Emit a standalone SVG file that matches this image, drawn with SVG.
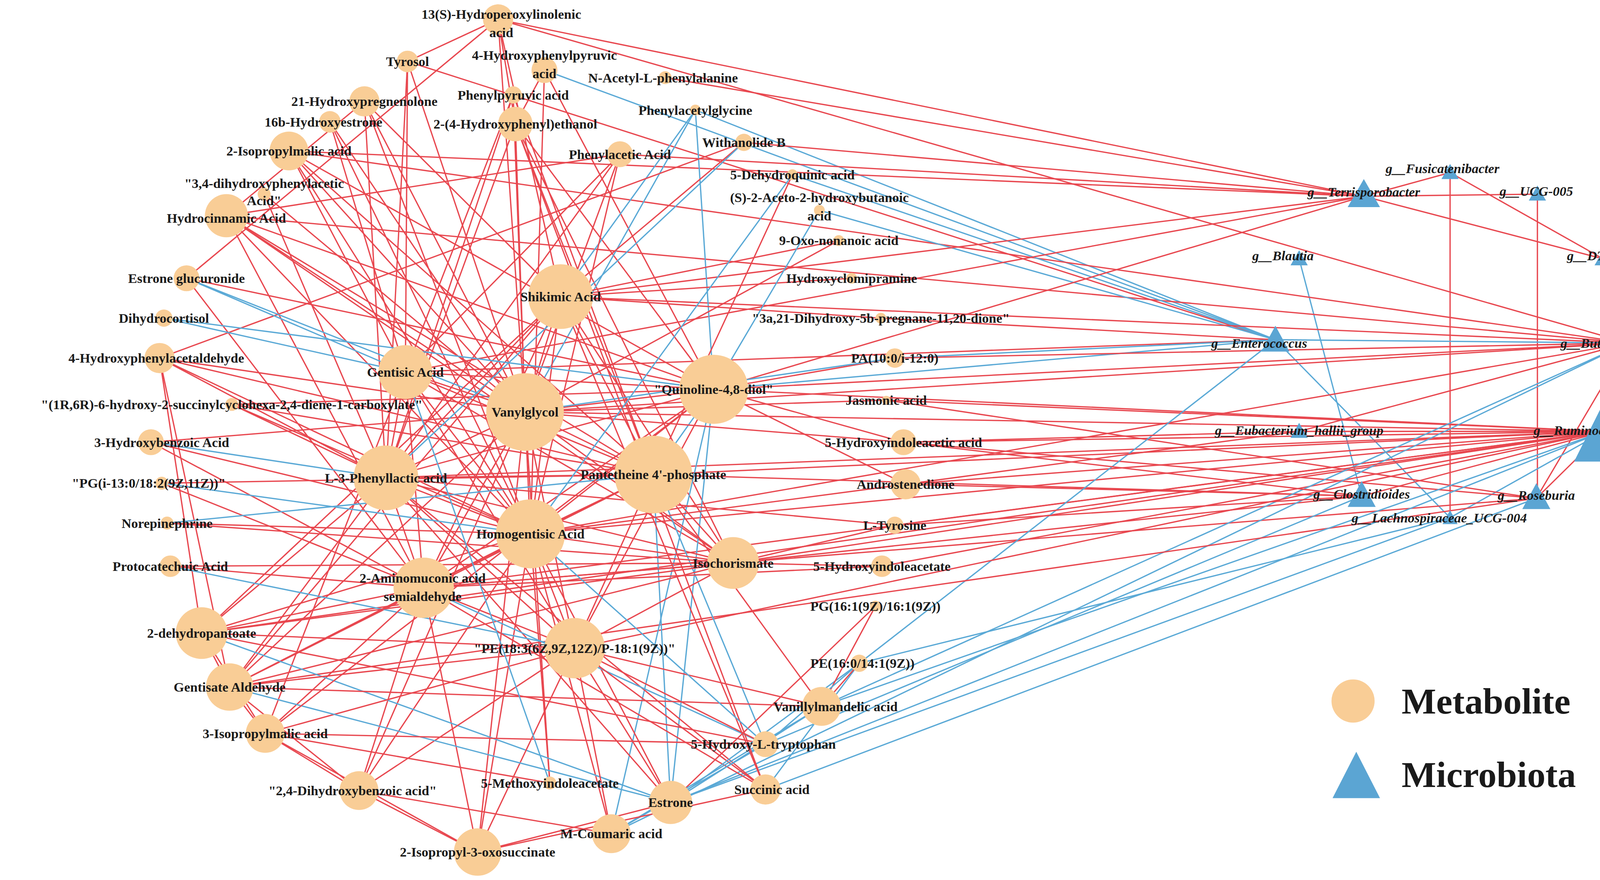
<svg xmlns="http://www.w3.org/2000/svg" width="4328" height="2252" viewBox="0 0 4328 2252">
<style>
.r{stroke:#e8474f;stroke-width:1.2;fill:none}
.b{stroke:#5aa9d6;stroke-width:1.2;fill:none}
.m{fill:#f9cd96}
.t{fill:#5ba5d3}
text{font-family:"Liberation Serif","Times New Roman",serif;font-weight:bold;font-size:12.5px;fill:#1a1a1a;text-anchor:middle;dominant-baseline:central}
.i{font-style:italic}
.lg{font-size:34px;text-anchor:start}
</style>
<rect width="4328" height="2252" fill="#fff"/>
<g transform="scale(2.76)">
<g id="connectors">
<path class="r" d="M1345 160L1265 182"/><path class="r" d="M1345 160L1487 240"/><path class="r" d="M1345 160L1345 480"/><path class="r" d="M1265 182L1487 240"/><path class="r" d="M1426 180L1426 462"/><path class="r" d="M1265 182L1426 180"/>
<path class="b" d="M1205 240L1263 460"/><path class="b" d="M1183 315L1510 318"/><path class="b" d="M1183 315L1345 480"/><path class="r" d="M1205 400L1488 400"/><path class="r" d="M1205 400L1510 318"/><path class="r" d="M1263 460L1488 400"/><path class="r" d="M1425 462L1510 318"/><path class="r" d="M1425 462L1488 400"/><path class="b" d="M1345 480L1488 400"/><path class="r" d="M1487 240L1510 318"/>
<path class="r" d="M462 18L1265 182"/><path class="r" d="M462 18L1510 318"/><path class="r" d="M378 57L1183 315"/><path class="b" d="M505 65L1183 315"/><path class="r" d="M617 72L1265 182"/><path class="b" d="M645 102L1183 315"/><path class="r" d="M690 132L1265 182"/><path class="r" d="M575 143L1265 182"/><path class="r" d="M268 140L1265 182"/><path class="r" d="M268 140L1510 318"/><path class="r" d="M210 200L1510 318"/><path class="b" d="M735 162L1183 315"/><path class="b" d="M760 195L1183 315"/><path class="r" d="M520 275L1510 318"/><path class="r" d="M520 275L1265 182"/><path class="r" d="M376 345L1265 182"/><path class="r" d="M376 345L1183 315"/><path class="r" d="M662 361L1265 182"/><path class="r" d="M662 361L1488 400"/><path class="r" d="M662 361L1510 318"/><path class="b" d="M662 361L1183 315"/><path class="r" d="M487 382L1488 400"/><path class="r" d="M487 382L1510 318"/><path class="r" d="M358 443L1488 400"/><path class="r" d="M606 440L1488 400"/><path class="r" d="M606 440L1263 460"/><path class="r" d="M492 495L1488 400"/><path class="r" d="M492 495L1510 318"/><path class="r" d="M680 522L1488 400"/><path class="r" d="M680 522L1263 460"/><path class="r" d="M393 545L1488 400"/><path class="r" d="M393 545L1425 462"/><path class="r" d="M840 449L1488 400"/><path class="r" d="M840 449L1263 460"/><path class="r" d="M830 487L1488 400"/><path class="r" d="M838 410L1488 400"/><path class="r" d="M838 410L1425 462"/><path class="r" d="M818 525L1488 400"/><path class="b" d="M830 332L1183 315"/><path class="r" d="M830 332L1510 318"/><path class="r" d="M822 371L1488 400"/><path class="r" d="M822 371L1425 462"/><path class="r" d="M817 295L1183 315"/><path class="b" d="M710 690L1263 460"/><path class="b" d="M762 655L1510 318"/><path class="b" d="M622 744L1488 400"/><path class="b" d="M710 732L1425 462"/><path class="b" d="M797 615L1183 315"/><path class="b" d="M797 615L1345 480"/><path class="b" d="M622 744L1345 480"/><path class="b" d="M567 773L1510 318"/><path class="r" d="M533 601L1488 400"/><path class="r" d="M838 410L1205 400"/><path class="r" d="M840 449L1205 400"/><path class="r" d="M838 410L1263 460"/><path class="r" d="M830 487L1263 460"/><path class="r" d="M187 587L1488 400"/><path class="r" d="M213 637L1425 462"/><path class="b" d="M762 655L1488 400"/>
<path class="r" d="M462 18L378 57"/><path class="r" d="M462 18L478 115"/><path class="r" d="M462 18L487 382"/><path class="r" d="M462 18L520 275"/><path class="r" d="M462 18L173 258"/><path class="r" d="M378 57L487 382"/><path class="r" d="M378 57L376 345"/><path class="r" d="M378 57L358 443"/><path class="r" d="M505 65L478 115"/><path class="r" d="M505 65L492 495"/><path class="r" d="M505 65L662 361"/><path class="r" d="M338 94L487 382"/><path class="r" d="M338 94L492 495"/><path class="r" d="M338 94L358 443"/><path class="r" d="M338 94L520 275"/><path class="r" d="M338 94L210 200"/><path class="r" d="M476 88L487 382"/><path class="r" d="M476 88L358 443"/><path class="r" d="M476 88L376 345"/><path class="r" d="M476 88L606 440"/><path class="r" d="M306 113L376 345"/><path class="r" d="M306 113L487 382"/><path class="r" d="M306 113L492 495"/><path class="r" d="M478 115L487 382"/><path class="r" d="M478 115L606 440"/><path class="r" d="M478 115L680 522"/><path class="r" d="M478 115L358 443"/><path class="r" d="M478 115L662 361"/><path class="b" d="M645 102L662 361"/><path class="b" d="M645 102L520 275"/><path class="b" d="M645 102L487 382"/><path class="r" d="M690 132L520 275"/><path class="r" d="M690 132L148 332"/><path class="r" d="M268 140L487 382"/><path class="r" d="M268 140L492 495"/><path class="r" d="M268 140L606 440"/><path class="r" d="M268 140L376 345"/><path class="r" d="M268 140L662 361"/><path class="r" d="M575 143L487 382"/><path class="r" d="M575 143L376 345"/><path class="r" d="M575 143L492 495"/><path class="r" d="M575 143L358 443"/><path class="r" d="M575 143L210 200"/><path class="r" d="M245 180L487 382"/><path class="r" d="M245 180L358 443"/><path class="r" d="M210 200L487 382"/><path class="r" d="M210 200L662 361"/><path class="r" d="M210 200L492 495"/><path class="r" d="M210 200L606 440"/><path class="r" d="M210 200L393 545"/><path class="r" d="M210 200L680 522"/><path class="b" d="M173 258L487 382"/><path class="b" d="M173 258L376 345"/><path class="r" d="M173 258L393 545"/><path class="r" d="M173 258L662 361"/><path class="r" d="M520 275L487 382"/><path class="r" d="M520 275L358 443"/><path class="r" d="M520 275L492 495"/><path class="r" d="M520 275L606 440"/><path class="r" d="M520 275L393 545"/><path class="r" d="M520 275L187 587"/><path class="r" d="M520 275L213 637"/><path class="r" d="M520 275L680 522"/><path class="b" d="M152 295L376 345"/><path class="b" d="M152 295L662 361"/><path class="r" d="M148 332L487 382"/><path class="r" d="M148 332L358 443"/><path class="r" d="M148 332L492 495"/><path class="r" d="M148 332L606 440"/><path class="r" d="M148 332L187 587"/><path class="r" d="M148 332L213 637"/><path class="r" d="M376 345L487 382"/><path class="r" d="M376 345L662 361"/><path class="r" d="M376 345L358 443"/><path class="r" d="M376 345L492 495"/><path class="r" d="M376 345L606 440"/><path class="r" d="M376 345L393 545"/><path class="r" d="M376 345L533 601"/><path class="r" d="M376 345L680 522"/><path class="r" d="M376 345L246 680"/><path class="r" d="M662 361L487 382"/><path class="r" d="M662 361L358 443"/><path class="r" d="M662 361L492 495"/><path class="r" d="M662 361L393 545"/><path class="b" d="M662 361L606 440"/><path class="r" d="M662 361L533 601"/><path class="b" d="M662 361L622 744"/><path class="b" d="M662 361L567 773"/><path class="r" d="M487 382L358 443"/><path class="r" d="M487 382L492 495"/><path class="r" d="M487 382L606 440"/><path class="r" d="M487 382L393 545"/><path class="r" d="M487 382L533 601"/><path class="r" d="M487 382L680 522"/><path class="r" d="M487 382L213 637"/><path class="r" d="M487 382L333 733"/><path class="r" d="M487 382L443 790"/><path class="r" d="M487 382L510 726"/><path class="r" d="M487 382L140 410"/><path class="r" d="M215 375L492 495"/><path class="r" d="M215 375L606 440"/><path class="r" d="M215 375L662 361"/><path class="r" d="M215 375L358 443"/><path class="b" d="M140 410L358 443"/><path class="r" d="M140 410L393 545"/><path class="r" d="M140 410L492 495"/><path class="r" d="M358 443L492 495"/><path class="r" d="M358 443L606 440"/><path class="r" d="M358 443L393 545"/><path class="r" d="M358 443L533 601"/><path class="r" d="M358 443L680 522"/><path class="r" d="M358 443L213 637"/><path class="r" d="M358 443L187 587"/><path class="r" d="M358 443L622 744"/><path class="r" d="M358 443L710 732"/><path class="r" d="M606 440L492 495"/><path class="r" d="M606 440L393 545"/><path class="r" d="M606 440L533 601"/><path class="r" d="M606 440L680 522"/><path class="b" d="M606 440L622 744"/><path class="b" d="M606 440L710 690"/><path class="r" d="M606 440L762 655"/><path class="r" d="M606 440L213 637"/><path class="r" d="M150 448L606 440"/><path class="b" d="M150 448L492 495"/><path class="r" d="M150 448L393 545"/><path class="r" d="M155 485L492 495"/><path class="b" d="M155 485L606 440"/><path class="r" d="M155 485L680 522"/><path class="r" d="M492 495L393 545"/><path class="r" d="M492 495L533 601"/><path class="r" d="M492 495L680 522"/><path class="r" d="M492 495L187 587"/><path class="r" d="M492 495L213 637"/><path class="r" d="M492 495L333 733"/><path class="r" d="M492 495L443 790"/><path class="r" d="M492 495L567 773"/><path class="r" d="M492 495L510 726"/><path class="r" d="M492 495L622 744"/><path class="r" d="M158 525L393 545"/><path class="r" d="M158 525L680 522"/><path class="b" d="M158 525L533 601"/><path class="r" d="M680 522L393 545"/><path class="r" d="M680 522L533 601"/><path class="r" d="M680 522L213 637"/><path class="r" d="M680 522L187 587"/><path class="r" d="M393 545L533 601"/><path class="r" d="M393 545L187 587"/><path class="r" d="M393 545L213 637"/><path class="r" d="M393 545L246 680"/><path class="r" d="M393 545L333 733"/><path class="r" d="M393 545L443 790"/><path class="b" d="M393 545L710 690"/><path class="r" d="M393 545L710 732"/><path class="r" d="M187 587L533 601"/><path class="r" d="M187 587L213 637"/><path class="r" d="M187 587L246 680"/><path class="r" d="M187 587L710 690"/><path class="b" d="M187 587L622 744"/><path class="r" d="M533 601L213 637"/><path class="r" d="M533 601L246 680"/><path class="r" d="M533 601L333 733"/><path class="r" d="M533 601L443 790"/><path class="r" d="M533 601L567 773"/><path class="r" d="M533 601L622 744"/><path class="r" d="M533 601L762 655"/><path class="r" d="M533 601L710 732"/><path class="r" d="M533 601L710 690"/><path class="r" d="M213 637L246 680"/><path class="r" d="M213 637L333 733"/><path class="r" d="M213 637L762 655"/><path class="b" d="M213 637L622 744"/><path class="r" d="M246 680L333 733"/><path class="r" d="M246 680L443 790"/><path class="r" d="M246 680L510 726"/><path class="r" d="M246 680L710 690"/><path class="r" d="M333 733L443 790"/><path class="r" d="M333 733L567 773"/><path class="b" d="M622 744L762 655"/><path class="b" d="M622 744L797 615"/><path class="r" d="M622 744L812 562"/><path class="b" d="M710 732L797 615"/><path class="b" d="M567 773L762 655"/><path class="b" d="M567 773L710 690"/><path class="r" d="M762 655L797 615"/><path class="r" d="M762 655L812 562"/><path class="b" d="M710 690L797 615"/><path class="r" d="M443 790L622 744"/><path class="r" d="M443 790L710 732"/><path class="r" d="M838 410L662 361"/><path class="r" d="M838 410L487 382"/><path class="r" d="M840 449L662 361"/><path class="r" d="M840 449L492 495"/><path class="r" d="M830 487L680 522"/><path class="r" d="M830 487L358 443"/><path class="r" d="M818 525L393 545"/><path class="r" d="M818 525L680 522"/><path class="r" d="M830 332L662 361"/><path class="b" d="M830 332L487 382"/><path class="r" d="M822 371L487 382"/><path class="r" d="M817 295L520 275"/><path class="r" d="M790 258L520 275"/><path class="r" d="M778 223L520 275"/><path class="r" d="M778 223L487 382"/><path class="b" d="M760 195L662 361"/><path class="r" d="M735 162L606 440"/><path class="b" d="M735 162L492 495"/><path class="b" d="M690 132L358 443"/><path class="r" d="M478 115L710 732"/><path class="r" d="M520 275L710 732"/><path class="r" d="M662 361L246 680"/><path class="b" d="M376 345L510 726"/><path class="b" d="M492 495L710 690"/>
</g>
<g id="n1"><circle class="m" cx="462" cy="18" r="14"/><text x="465" y="13">13(S)-Hydroperoxylinolenic</text><text x="465" y="30">acid</text></g>
<g id="n2"><circle class="m" cx="378" cy="57" r="10"/><text x="378" y="57">Tyrosol</text></g>
<g id="n3"><circle class="m" cx="505" cy="65" r="12"/><text x="505" y="51">4-Hydroxyphenylpyruvic</text><text x="505" y="68">acid</text></g>
<g id="n4"><circle class="m" cx="617" cy="72" r="6"/><text x="615" y="72">N-Acetyl-L-phenylalanine</text></g>
<g id="n5"><circle class="m" cx="338" cy="94" r="14"/><text x="338" y="94">21-Hydroxypregnenolone</text></g>
<g id="n6"><circle class="m" cx="476" cy="88" r="8"/><text x="476" y="88">Phenylpyruvic acid</text></g>
<g id="n7"><circle class="m" cx="306" cy="113" r="10"/><text x="300" y="113">16b-Hydroxyestrone</text></g>
<g id="n8"><circle class="m" cx="478" cy="115" r="16"/><text x="478" y="115">2-(4-Hydroxyphenyl)ethanol</text></g>
<g id="n9"><circle class="m" cx="645" cy="102" r="5"/><text x="645" y="102">Phenylacetylglycine</text></g>
<g id="n10"><circle class="m" cx="690" cy="132" r="8"/><text x="690" y="132">Withanolide B</text></g>
<g id="n11"><circle class="m" cx="268" cy="140" r="18"/><text x="268" y="140">2-Isopropylmalic acid</text></g>
<g id="n12"><circle class="m" cx="575" cy="143" r="12"/><text x="575" y="143">Phenylacetic Acid</text></g>
<g id="n13"><circle class="m" cx="735" cy="162" r="5"/><text x="735" y="162">5-Dehydroquinic acid</text></g>
<g id="n14"><circle class="m" cx="245" cy="180" r="6"/><text x="245" y="170">"3,4-dihydroxyphenylacetic</text><text x="245" y="186">Acid"</text></g>
<g id="n15"><circle class="m" cx="210" cy="200" r="20"/><text x="210" y="202">Hydrocinnamic Acid</text></g>
<g id="n16"><circle class="m" cx="760" cy="195" r="5"/><text x="760" y="183">(S)-2-Aceto-2-hydroxybutanoic</text><text x="760" y="200">acid</text></g>
<g id="n17"><circle class="m" cx="778" cy="223" r="5"/><text x="778" y="223">9-Oxo-nonanoic acid</text></g>
<g id="n18"><circle class="m" cx="173" cy="258" r="12"/><text x="173" y="258">Estrone glucuronide</text></g>
<g id="n19"><circle class="m" cx="790" cy="258" r="5"/><text x="790" y="258">Hydroxyclomipramine</text></g>
<g id="n20"><circle class="m" cx="520" cy="275" r="30"/><text x="520" y="275">Shikimic Acid</text></g>
<g id="n21"><circle class="m" cx="152" cy="295" r="8"/><text x="152" y="295">Dihydrocortisol</text></g>
<g id="n22"><circle class="m" cx="817" cy="295" r="5"/><text x="817" y="295">"3a,21-Dihydroxy-5b-pregnane-11,20-dione"</text></g>
<g id="n23"><circle class="m" cx="148" cy="332" r="14"/><text x="145" y="332">4-Hydroxyphenylacetaldehyde</text></g>
<g id="n24"><circle class="m" cx="830" cy="332" r="9"/><text x="830" y="332">PA(10:0/i-12:0)</text></g>
<g id="n25"><circle class="m" cx="376" cy="345" r="25"/><text x="376" y="345">Gentisic Acid</text></g>
<g id="n26"><circle class="m" cx="662" cy="361" r="32"/><text x="662" y="361">"Quinoline-4,8-diol"</text></g>
<g id="n27"><circle class="m" cx="487" cy="382" r="36"/><text x="487" y="382">Vanylglycol</text></g>
<g id="n28"><circle class="m" cx="215" cy="375" r="6"/><text x="215" y="375">"(1R,6R)-6-hydroxy-2-succinylcyclohexa-2,4-diene-1-carboxylate"</text></g>
<g id="n29"><circle class="m" cx="822" cy="371" r="4"/><text x="822" y="371">Jasmonic acid</text></g>
<g id="n30"><circle class="m" cx="140" cy="410" r="12"/><text x="150" y="410">3-Hydroxybenzoic Acid</text></g>
<g id="n31"><circle class="m" cx="838" cy="410" r="12"/><text x="838" y="410">5-Hydroxyindoleacetic acid</text></g>
<g id="n32"><circle class="m" cx="358" cy="443" r="30"/><text x="358" y="443">L-3-Phenyllactic acid</text></g>
<g id="n33"><circle class="m" cx="606" cy="440" r="36"/><text x="606" y="440">Pantetheine 4'-phosphate</text></g>
<g id="n34"><circle class="m" cx="150" cy="448" r="6"/><text x="138" y="448">"PG(i-13:0/18:2(9Z,11Z))"</text></g>
<g id="n35"><circle class="m" cx="840" cy="449" r="14"/><text x="840" y="449">Androstenedione</text></g>
<g id="n36"><circle class="m" cx="155" cy="485" r="6"/><text x="155" y="485">Norepinephrine</text></g>
<g id="n37"><circle class="m" cx="492" cy="495" r="32"/><text x="492" y="495">Homogentisic Acid</text></g>
<g id="n38"><circle class="m" cx="830" cy="487" r="8"/><text x="830" y="487">L-Tyrosine</text></g>
<g id="n39"><circle class="m" cx="680" cy="522" r="24"/><text x="680" y="522">Isochorismate</text></g>
<g id="n40"><circle class="m" cx="158" cy="525" r="10"/><text x="158" y="525">Protocatechuic Acid</text></g>
<g id="n41"><circle class="m" cx="818" cy="525" r="10"/><text x="818" y="525">5-Hydroxyindoleacetate</text></g>
<g id="n42"><circle class="m" cx="393" cy="545" r="28"/><text x="392" y="536">2-Aminomuconic acid</text><text x="392" y="553">semialdehyde</text></g>
<g id="n43"><circle class="m" cx="812" cy="562" r="5"/><text x="812" y="562">PG(16:1(9Z)/16:1(9Z))</text></g>
<g id="n44"><circle class="m" cx="187" cy="587" r="24"/><text x="187" y="587">2-dehydropantoate</text></g>
<g id="n45"><circle class="m" cx="533" cy="601" r="28"/><text x="533" y="601">"PE(18:3(6Z,9Z,12Z)/P-18:1(9Z))"</text></g>
<g id="n46"><circle class="m" cx="797" cy="615" r="8"/><text x="800" y="615">PE(16:0/14:1(9Z))</text></g>
<g id="n47"><circle class="m" cx="213" cy="637" r="22"/><text x="213" y="637">Gentisate Aldehyde</text></g>
<g id="n48"><circle class="m" cx="762" cy="655" r="18"/><text x="775" y="655">Vanillylmandelic acid</text></g>
<g id="n49"><circle class="m" cx="246" cy="680" r="18"/><text x="246" y="680">3-Isopropylmalic acid</text></g>
<g id="n50"><circle class="m" cx="710" cy="690" r="12"/><text x="708" y="690">5-Hydroxy-L-tryptophan</text></g>
<g id="n51"><circle class="m" cx="333" cy="733" r="18"/><text x="327" y="733">"2,4-Dihydroxybenzoic acid"</text></g>
<g id="n52"><circle class="m" cx="510" cy="726" r="6"/><text x="510" y="726">5-Methoxyindoleacetate</text></g>
<g id="n53"><circle class="m" cx="710" cy="732" r="14"/><text x="716" y="732">Succinic acid</text></g>
<g id="n54"><circle class="m" cx="622" cy="744" r="20"/><text x="622" y="744">Estrone</text></g>
<g id="n55"><circle class="m" cx="567" cy="773" r="18"/><text x="567" y="773">M-Coumaric acid</text></g>
<g id="n56"><circle class="m" cx="443" cy="790" r="22"/><text x="443" y="790">2-Isopropyl-3-oxosuccinate</text></g>
<g id="m1"><polygon class="t" points="1345,152 1337,166 1353,166"/><text class="i" x="1338" y="156">g__Fusicatenibacter</text></g>
<g id="m2"><polygon class="t" points="1265,166 1250,192 1280,192"/><text class="i" x="1265" y="178">g__Terrisporobacter</text></g>
<g id="m3"><polygon class="t" points="1426,172 1418,186 1434,186"/><text class="i" x="1425" y="177">g__UCG-005</text></g>
<g id="m4"><polygon class="t" points="1487,232 1479,246 1495,246"/><text class="i" x="1485" y="237">g__DTU089</text></g>
<g id="m5"><polygon class="t" points="1205,232 1197,246 1213,246"/><text class="i" x="1190" y="237">g__Blautia</text></g>
<g id="m6"><polygon class="t" points="1183,302 1170,326 1196,326"/><text class="i" x="1168" y="318">g__Enterococcus</text></g>
<g id="m7"><polygon class="t" points="1510,298 1487,338 1533,338"/><text class="i" x="1495" y="318">g__Butyricicoccus</text></g>
<g id="m8"><polygon class="t" points="1488,372 1460,428 1516,428"/><text class="i" x="1470" y="399">g__Ruminococcus</text></g>
<g id="m9"><polygon class="t" points="1205,392 1197,406 1213,406"/><text class="i" x="1205" y="399">g__Eubacterium_hallii_group</text></g>
<g id="m10"><polygon class="t" points="1263,446 1250,470 1276,470"/><text class="i" x="1263" y="458">g__Clostridioides</text></g>
<g id="m11"><polygon class="t" points="1425,448 1412,472 1438,472"/><text class="i" x="1425" y="459">g__Roseburia</text></g>
<g id="m12"><polygon class="t" points="1345,473 1338,486 1352,486"/><text class="i" x="1335" y="480">g__Lachnospiraceae_UCG-004</text></g>
<g id="legend"><circle class="m" cx="1255" cy="650" r="20"/><text class="lg" x="1300" y="650">Metabolite</text><polygon class="t" points="1258,697 1236,740 1280,740"/><text class="lg" x="1300" y="718">Microbiota</text></g>
</g>
</svg>
